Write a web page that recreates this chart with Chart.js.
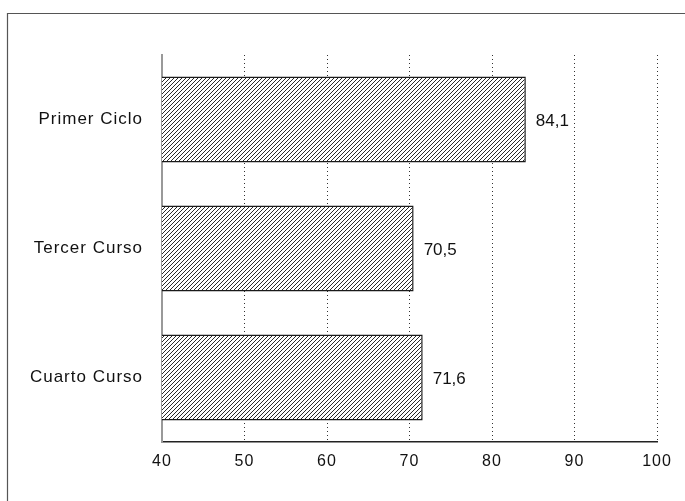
<!DOCTYPE html>
<html>
<head>
<meta charset="utf-8">
<script src="https://cdn.jsdelivr.net/npm/chart.js@4.4.1/dist/chart.umd.min.js"></script>
<style>
    html, body { margin: 0; padding: 0; background: #fff; }
    #wrap { width: 685px; height: 501px; position: relative; }
</style>
</head>
<body>
<div id="wrap"><canvas id="cursosChart" width="685" height="501"></canvas></div>
<script>
// Datos del gráfico
const categorias = ['Primer Ciclo', 'Tercer Curso', 'Cuarto Curso'];
const valores = [84.1, 70.5, 71.6];
const ticksX = [40, 50, 60, 70, 80, 90, 100];

const FUENTE = '"Liberation Sans", Arial, Helvetica, sans-serif';
const COLOR_TEXTO = '#111';

// Trama de rayas diagonales para las barras
function crearTrama() {
    const s = 4;
    const c = document.createElement('canvas');
    c.width = s;
    c.height = s;
    const g = c.getContext('2d');
    g.fillStyle = '#fff';
    g.fillRect(0, 0, s, s);
    g.strokeStyle = '#2a2a2a';
    g.lineWidth = 1;
    g.beginPath();
    g.moveTo(-1, s + 1); g.lineTo(s + 1, -1);
    g.moveTo(-1, 1); g.lineTo(1, -1);
    g.moveTo(s - 1, s + 1); g.lineTo(s + 1, s - 1);
    g.stroke();
    return g.createPattern(c, 'repeat');
}

// Marco exterior del dibujo
const marcoPlugin = {
    id: 'marco',
    beforeDraw(chart) {
        chart.ctx.letterSpacing = '1px';
    },
    afterDraw(chart) {
        const ctx = chart.ctx;
        ctx.save();
        ctx.strokeStyle = '#555';
        ctx.lineWidth = 1.2;
        ctx.beginPath();
        ctx.moveTo(7.5, 501);
        ctx.lineTo(7.5, 13.5);
        ctx.lineTo(685, 13.5);
        ctx.stroke();
        ctx.restore();
    }
};

// Etiquetas con el valor a la derecha de cada barra
const valoresPlugin = {
    id: 'valores',
    afterDatasetsDraw(chart) {
        const ctx = chart.ctx;
        const meta = chart.getDatasetMeta(0);
        ctx.save();
        ctx.letterSpacing = '0px';
        ctx.font = '17px ' + FUENTE;
        ctx.fillStyle = COLOR_TEXTO;
        ctx.textAlign = 'left';
        ctx.textBaseline = 'middle';
        meta.data.forEach((bar, i) => {
            const texto = valores[i].toFixed(1).replace('.', ',');
            ctx.fillText(texto, bar.x + 10, bar.y + 2);
        });
        ctx.restore();
    }
};

const ctx = document.getElementById('cursosChart');
new Chart(ctx, {
    type: 'bar',
    data: {
        labels: categorias,
        datasets: [{
            data: valores,
            backgroundColor: crearTrama(),
            borderColor: '#1a1a1a',
            borderWidth: 1.5,
            borderSkipped: false,
            barPercentage: 0.667,
            categoryPercentage: 1
        }]
    },
    options: {
        indexAxis: 'y',
        responsive: false,
        animation: false,
        layout: { padding: { top: 55, right: 28, left: 0, bottom: 0 } },
        plugins: {
            legend: { display: false },
            tooltip: { enabled: false }
        },
        scales: {
            x: {
                min: 40,
                max: 100,
                afterBuildTicks(scale) {
                    scale.ticks = ticksX.map(v => ({ value: v }));
                },
                afterFit(scale) { scale.height = 59; },
                grid: {
                    drawTicks: false,
                    color: c => (c.tick && c.tick.value === 40) ? 'transparent' : '#333',
                    lineWidth: 1
                },
                border: { display: true, color: '#222', width: 1.5, dash: [1, 3] },
                ticks: {
                    padding: 10,
                    color: COLOR_TEXTO,
                    font: { family: FUENTE, size: 16 },
                    maxRotation: 0
                }
            },
            y: {
                afterFit(scale) { scale.width = 162; },
                grid: { drawTicks: false, color: 'transparent' },
                border: { display: true, color: '#999', width: 2 },
                ticks: {
                    padding: 19,
                    color: COLOR_TEXTO,
                    font: { family: FUENTE, size: 17 }
                }
            }
        }
    },
    plugins: [marcoPlugin, valoresPlugin]
});
</script>
</body>
</html>
